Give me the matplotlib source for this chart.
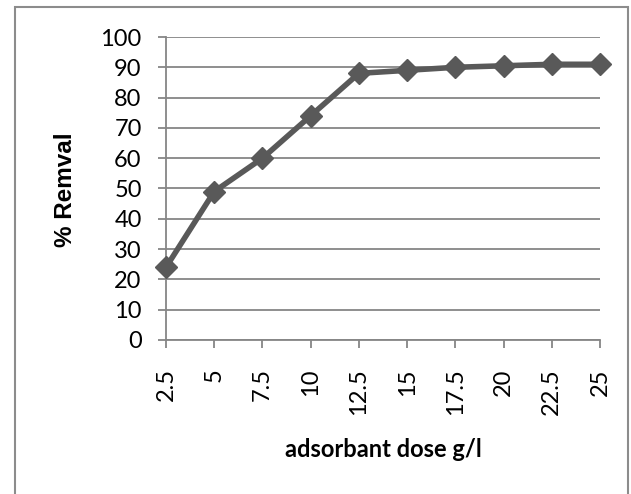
import matplotlib
matplotlib.use('Agg')
import matplotlib.pyplot as plt
from matplotlib.patches import Rectangle

# adsorbent dose (g/l) vs removal (%)
dose = [2.5, 5, 7.5, 10, 12.5, 15, 17.5, 20, 22.5, 25]
dose_labels = ['2.5', '5', '7.5', '10', '12.5', '15', '17.5', '20', '22.5', '25']
removal = [24, 49, 60, 74, 88, 89, 90, 90.5, 91, 91]
y_ticks = [0, 10, 20, 30, 40, 50, 60, 70, 80, 90, 100]

plt.rcParams['font.family'] = ['Lato', 'DejaVu Sans']

fig = plt.figure(figsize=(6.31, 4.94), dpi=100)
ax = fig.add_axes([166 / 631, 1 - 340 / 494, (600 - 166) / 631, (340 - 37) / 494])

grid_col = '#868686'
line_col = '#595959'

x = list(range(len(dose)))
ax.plot(x, removal, color=line_col, lw=4, marker='D', markersize=11.5,
        markerfacecolor=line_col, markeredgecolor=line_col, clip_on=False, zorder=3)

ax.set_xlim(0, len(dose) - 1)
ax.set_ylim(0, 100)
ax.set_yticks(y_ticks)
ax.set_xticks(x)
ax.set_xticklabels(dose_labels, rotation=90)
ax.yaxis.grid(True, color=grid_col, lw=1.3)
ax.set_axisbelow(True)

for s in ['top', 'right']:
    ax.spines[s].set_visible(False)
for s in ['left', 'bottom']:
    ax.spines[s].set_color(grid_col)
    ax.spines[s].set_linewidth(1.3)

ax.tick_params(axis='both', colors=grid_col, length=5.5, width=1.3, labelsize=17,
               labelcolor='black')
ax.tick_params(axis='x', pad=15)
ax.tick_params(axis='y', pad=12)

# y label in Arial-like bold, x label in Calibri-like bold
fig.text(66 / 631, 1 - 190 / 494, '% Remval', rotation=90, ha='center', va='center',
         fontsize=17.5, fontweight='bold', family=['Liberation Sans', 'DejaVu Sans'])
fig.text(383 / 631, 1 - 449 / 494, 'adsorbant dose g/l', ha='center', va='center',
         fontsize=17, fontweight='bold')

# chart area border
fig.patches.append(Rectangle((15 / 631, -0.01), (628 - 15) / 631, 1 - 7 / 494 + 0.01,
                             transform=fig.transFigure, fill=False,
                             edgecolor='#8c8c8c', lw=1.5))

fig.savefig('out.png', dpi=100)
